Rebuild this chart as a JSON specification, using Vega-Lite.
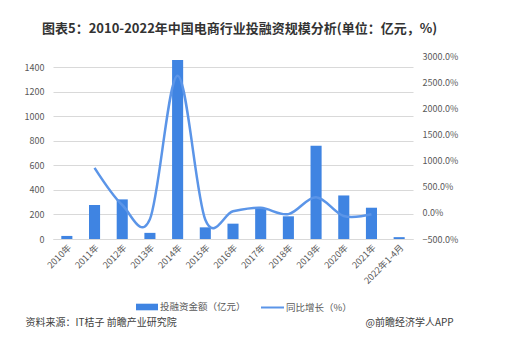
{
  "$schema": "https://vega.github.io/schema/vega-lite/v6.json",
  "autosize": "none",
  "width": 360,
  "height": 183,
  "padding": {"left": 53, "top": 56, "right": 96, "bottom": 113},
  "background": "white",
  "config": {
    "font": "Noto Sans CJK SC",
    "view": {"stroke": null},
    "axis": {"labelFont": "Noto Sans CJK SC", "labelColor": "#595959", "labelFontSize": 9, "titleFont": "Noto Sans CJK SC"}
  },
  "title": {
    "text": "图表5：2010-2022年中国电商行业投融资规模分析(单位：亿元，%)",
    "anchor": "start",
    "frame": "group",
    "dx": -11,
    "offset": 16,
    "fontSize": 13,
    "fontWeight": "bold",
    "color": "#333333"
  },
  "data": {
    "values": [
      {"year": "2010年", "amount": 25, "growth": null},
      {"year": "2011年", "amount": 277, "growth": 860},
      {"year": "2012年", "amount": 323, "growth": 150},
      {"year": "2013年", "amount": 50, "growth": -120},
      {"year": "2014年", "amount": 1460, "growth": 2620},
      {"year": "2015年", "amount": 95, "growth": -130},
      {"year": "2016年", "amount": 125, "growth": 30},
      {"year": "2017年", "amount": 245, "growth": 96},
      {"year": "2018年", "amount": 185, "growth": -24},
      {"year": "2019年", "amount": 760, "growth": 300},
      {"year": "2020年", "amount": 355, "growth": -60},
      {"year": "2021年", "amount": 255, "growth": -28},
      {"year": "2022年1-4月", "amount": 15, "growth": null}
    ]
  },
  "encoding": {
    "x": {
      "field": "year",
      "type": "nominal",
      "sort": null,
      "scale": {"paddingInner": 0.6, "paddingOuter": 0.3},
      "axis": {
        "labelAngle": -45,
        "labelAlign": "right",
        "labelBaseline": "top",
        "labelPadding": 4,
        "domain": true,
        "domainColor": "#d9d9d9",
        "ticks": false,
        "title": "资料来源：IT桔子 前瞻产业研究院",
        "titleX": -28,
        "titleY": 83,
        "titleAlign": "left",
        "titleAnchor": null,
        "titleBaseline": "middle",
        "titleFontSize": 10,
        "titleFontWeight": "normal",
        "titleColor": "#404040"
      }
    }
  },
  "layer": [
    {
      "mark": {"type": "bar", "color": "#3f84e2"},
      "encoding": {
        "y": {
          "field": "amount",
          "type": "quantitative",
          "scale": {"domain": [0, 1492], "nice": false, "zero": true},
          "axis": {
            "values": [0, 200, 400, 600, 800, 1000, 1200, 1400],
            "format": "d",
            "grid": true,
            "gridColor": "#d9d9d9",
            "domain": false,
            "ticks": false,
            "labelPadding": 9,
            "title": null
          }
        },
        "color": {
          "datum": "投融资金额（亿元）",
          "type": "nominal",
          "scale": {"range": ["#3f84e2"]},
          "legend": {
            "title": null,
            "orient": "none",
            "legendX": 82,
            "legendY": 239,
            "symbolType": "M-1,-0.3H1V0.3H-1Z",
            "symbolSize": 484,
            "labelFontSize": 9.5,
            "labelColor": "#595959",
            "labelOffset": 1
          }
        }
      }
    },
    {
      "transform": [{"filter": "datum.growth != null"}],
      "mark": {"type": "line", "interpolate": "cardinal", "strokeWidth": 2.5, "color": "#5b95e8"},
      "encoding": {
        "y": {
          "field": "growth",
          "type": "quantitative",
          "scale": {"domain": [-500, 3000], "nice": false, "zero": false},
          "axis": {
            "orient": "right",
            "values": [-500, 0, 500, 1000, 1500, 2000, 2500, 3000],
            "labelExpr": "format(datum.value, '.1f') + '%'",
            "grid": false,
            "domain": false,
            "ticks": false,
            "labelPadding": 9,
            "title": "@前瞻经济学人APP",
            "titleAngle": 0,
            "titleX": -48,
            "titleY": 266,
            "titleAlign": "left",
            "titleBaseline": "middle",
            "titleAnchor": null,
            "titleFontSize": 10,
            "titleFontWeight": "normal",
            "titleColor": "#404040"
          }
        },
        "stroke": {
          "datum": "同比增长（%）",
          "type": "nominal",
          "scale": {"range": ["#5b95e8"]},
          "legend": {
            "title": null,
            "orient": "none",
            "legendX": 207,
            "legendY": 239,
            "symbolType": "M-1,0H1",
            "symbolSize": 529,
            "symbolStrokeWidth": 2,
            "labelFontSize": 9.5,
            "labelColor": "#595959",
            "labelOffset": 1
          }
        }
      }
    }
  ],
  "resolve": {"scale": {"y": "independent"}}
}
